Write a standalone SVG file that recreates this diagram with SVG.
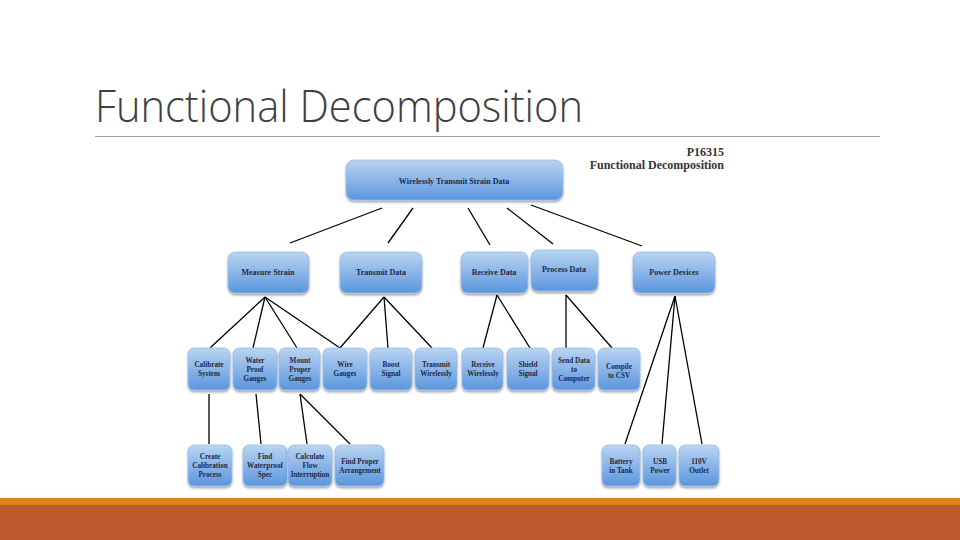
<svg xmlns="http://www.w3.org/2000/svg" width="960" height="540" viewBox="0 0 960 540">
<defs>
<linearGradient id="g" x1="0" y1="0" x2="0" y2="1">
<stop offset="0" stop-color="#b9d4f2"/>
<stop offset="0.5" stop-color="#8bb5e8"/>
<stop offset="1" stop-color="#5a95dc"/>
</linearGradient>
<filter id="sh" x="-10%" y="-10%" width="120%" height="130%">
<feDropShadow dx="0" dy="2" stdDeviation="1.2" flood-color="#000" flood-opacity="0.35"/>
</filter>
</defs>
<style>
.box{fill:url(#g);stroke:#9cbde6;stroke-width:0.8;filter:url(#sh)}
.t{font-family:"Liberation Serif","DejaVu Serif",serif;font-weight:bold;fill:#1d2b47;text-anchor:middle}
.t2{font-size:8px}
.t3{font-size:7.2px}
.c line{stroke:#000;stroke-width:1.3}
</style>
<rect x="0" y="0" width="960" height="540" fill="#fff"/>
<text x="95" y="122" font-family="'Open Sans','Liberation Sans',sans-serif" font-weight="300" font-size="44" fill="#404040" textLength="488" lengthAdjust="spacingAndGlyphs">Functional Decomposition</text>
<line x1="95" y1="136.5" x2="880" y2="136.5" stroke="#a0a0a0" stroke-width="1"/>
<text x="724" y="156" font-family="'Liberation Serif',serif" font-weight="bold" font-size="12" fill="#333" text-anchor="end">P16315</text>
<text x="724" y="169" font-family="'Liberation Serif',serif" font-weight="bold" font-size="12" fill="#333" text-anchor="end">Functional Decomposition</text>

<g class="c" id="connectors">
<line x1="382" y1="208" x2="290" y2="243"/>
<line x1="413" y1="208" x2="388" y2="243"/>
<line x1="468" y1="208" x2="490" y2="245"/>
<line x1="507" y1="208" x2="553" y2="244"/>
<line x1="531" y1="205" x2="642" y2="246"/>
<line x1="265" y1="297" x2="210" y2="348"/>
<line x1="265" y1="297" x2="253" y2="348"/>
<line x1="265" y1="297" x2="297" y2="348"/>
<line x1="265" y1="297" x2="340" y2="348"/>
<line x1="384" y1="297" x2="340" y2="348"/>
<line x1="384" y1="297" x2="388" y2="348"/>
<line x1="384" y1="297" x2="432" y2="348"/>
<line x1="497" y1="295" x2="483" y2="348"/>
<line x1="497" y1="295" x2="530" y2="348"/>
<line x1="566" y1="295" x2="566" y2="348"/>
<line x1="566" y1="295" x2="612" y2="348"/>
<line x1="675" y1="296" x2="625" y2="444"/>
<line x1="675" y1="296" x2="662" y2="444"/>
<line x1="675" y1="296" x2="702" y2="444"/>
<line x1="209" y1="394" x2="209" y2="444"/>
<line x1="256" y1="394" x2="261" y2="444"/>
<line x1="300" y1="394" x2="307" y2="444"/>
<line x1="300" y1="394" x2="350" y2="444"/>
</g>

<g id="n-root"><rect class="box" x="346" y="160" width="217" height="40" rx="8"/><text class="t t2" x="454" y="184">Wirelessly Transmit Strain Data</text></g>

<g id="n-measure"><rect class="box" x="228" y="252" width="81" height="41" rx="7"/><text class="t t2" x="268" y="275">Measure Strain</text></g>
<g id="n-transmit"><rect class="box" x="340" y="252" width="82" height="41" rx="7"/><text class="t t2" x="381" y="275">Transmit Data</text></g>
<g id="n-receive"><rect class="box" x="461" y="252" width="67" height="41" rx="7"/><text class="t t2" x="494" y="275">Receive Data</text></g>
<g id="n-process"><rect class="box" x="531" y="250" width="67" height="41" rx="7"/><text class="t t2" x="564" y="272">Process Data</text></g>
<g id="n-power"><rect class="box" x="633" y="252" width="82" height="41" rx="7"/><text class="t t2" x="674" y="275">Power Devices</text></g>

<g id="n-calibrate"><rect class="box" x="188" y="348" width="42" height="42" rx="6"/><text class="t t3" x="209" y="367">Calibrate</text><text class="t t3" x="209" y="376">System</text></g>
<g id="n-waterproof"><rect class="box" x="233" y="348" width="44" height="42" rx="6"/><text class="t t3" x="255" y="363">Water</text><text class="t t3" x="255" y="372">Proof</text><text class="t t3" x="255" y="381">Gauges</text></g>
<g id="n-mount"><rect class="box" x="279" y="348" width="41" height="42" rx="6"/><text class="t t3" x="300" y="363">Mount</text><text class="t t3" x="300" y="372">Proper</text><text class="t t3" x="300" y="381">Gauges</text></g>
<g id="n-wire"><rect class="box" x="323" y="348" width="44" height="42" rx="6"/><text class="t t3" x="345" y="367">Wire</text><text class="t t3" x="345" y="376">Gauges</text></g>
<g id="n-boost"><rect class="box" x="370" y="348" width="42" height="42" rx="6"/><text class="t t3" x="391" y="367">Boost</text><text class="t t3" x="391" y="376">Signal</text></g>
<g id="n-twireless"><rect class="box" x="415" y="348" width="42" height="42" rx="6"/><text class="t t3" x="436" y="367">Transmit</text><text class="t t3" x="436" y="376">Wirelessly</text></g>
<g id="n-rwireless"><rect class="box" x="462" y="348" width="41" height="42" rx="6"/><text class="t t3" x="483" y="367">Receive</text><text class="t t3" x="483" y="376">Wirelessly</text></g>
<g id="n-shield"><rect class="box" x="507" y="348" width="42" height="42" rx="6"/><text class="t t3" x="528" y="367">Shield</text><text class="t t3" x="528" y="376">Signal</text></g>
<g id="n-send"><rect class="box" x="552" y="348" width="43" height="42" rx="6"/><text class="t t3" x="574" y="363">Send Data</text><text class="t t3" x="574" y="372">to</text><text class="t t3" x="574" y="381">Computer</text></g>
<g id="n-compile"><rect class="box" x="598" y="348" width="42" height="42" rx="6"/><text class="t t3" x="619" y="369">Compile</text><text class="t t3" x="619" y="378">to CSV</text></g>

<g id="n-create"><rect class="box" x="188" y="445" width="44" height="41" rx="6"/><text class="t t3" x="210" y="459">Create</text><text class="t t3" x="210" y="468">Calibration</text><text class="t t3" x="210" y="477">Process</text></g>
<g id="n-findspec"><rect class="box" x="243" y="445" width="44" height="41" rx="6"/><text class="t t3" x="265" y="459">Find</text><text class="t t3" x="265" y="468">Waterproof</text><text class="t t3" x="265" y="477">Spec</text></g>
<g id="n-calc"><rect class="box" x="288" y="445" width="44" height="41" rx="6"/><text class="t t3" x="310" y="459">Calculate</text><text class="t t3" x="310" y="468">Flow</text><text class="t t3" x="310" y="477">Interruption</text></g>
<g id="n-arrange"><rect class="box" x="335" y="445" width="49" height="41" rx="6"/><text class="t t3" x="360" y="464">Find Proper</text><text class="t t3" x="360" y="473">Arrangement</text></g>
<g id="n-battery"><rect class="box" x="602" y="445" width="38" height="41" rx="6"/><text class="t t3" x="621" y="464">Battery</text><text class="t t3" x="621" y="473">in Tank</text></g>
<g id="n-usb"><rect class="box" x="643" y="445" width="33" height="41" rx="6"/><text class="t t3" x="660" y="464">USB</text><text class="t t3" x="660" y="473">Power</text></g>
<g id="n-110v"><rect class="box" x="679" y="445" width="40" height="41" rx="6"/><text class="t t3" x="699" y="464">110V</text><text class="t t3" x="699" y="473">Outlet</text></g>

<rect x="0" y="498" width="960" height="7" fill="#e0821b"/>
<rect x="0" y="505" width="960" height="35" fill="#bc5a2b"/>
</svg>
